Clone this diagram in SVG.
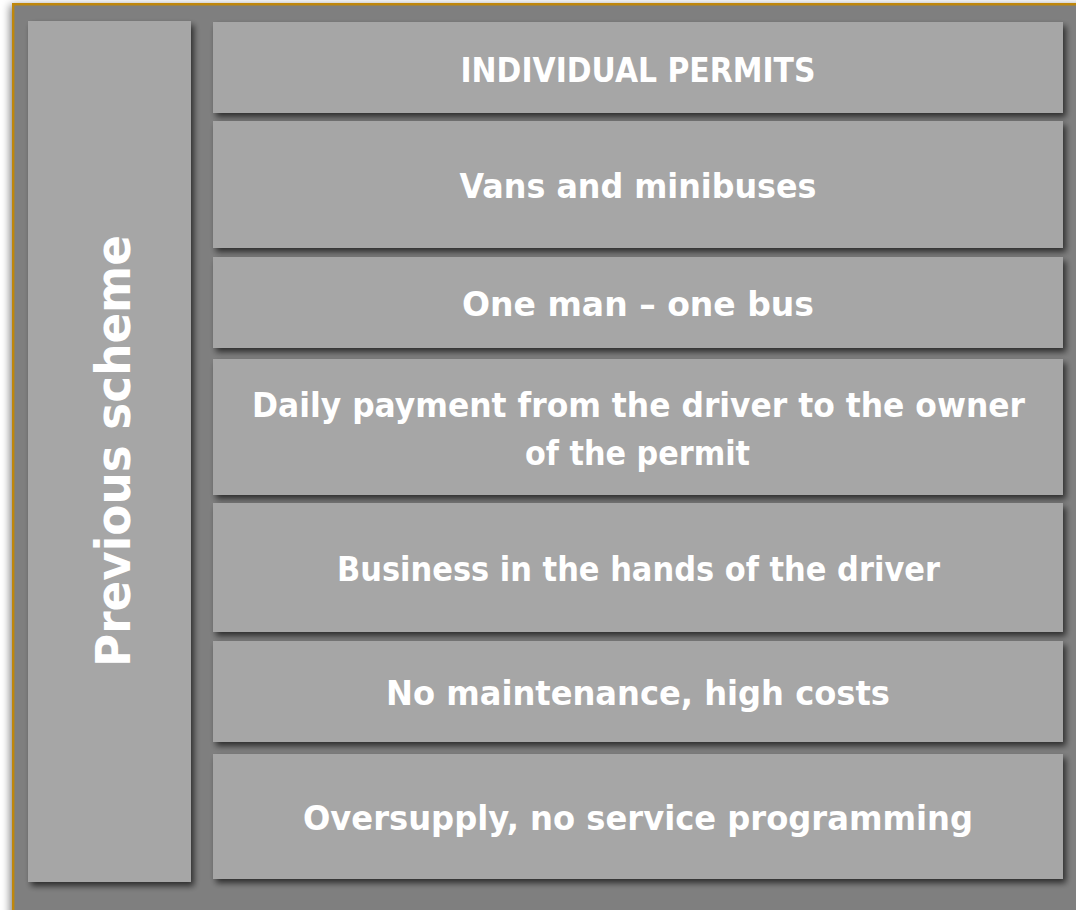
<svg xmlns="http://www.w3.org/2000/svg" width="1076" height="910" viewBox="0 0 1076 910">
  <defs>
    <filter id="sh" x="-10%" y="-20%" width="130%" height="150%">
      <feGaussianBlur in="SourceAlpha" stdDeviation="3"/>
      <feOffset dx="3" dy="4" result="b"/>
      <feComponentTransfer><feFuncA type="linear" slope="0.65"/></feComponentTransfer>
      <feMerge><feMergeNode/><feMergeNode in="SourceGraphic"/></feMerge>
    </filter>
    <filter id="fsh" x="-5%" y="-5%" width="110%" height="110%">
      <feGaussianBlur in="SourceAlpha" stdDeviation="4"/>
      <feOffset dx="-2" dy="2" result="b"/>
      <feComponentTransfer><feFuncA type="linear" slope="0.5"/></feComponentTransfer>
      <feMerge><feMergeNode/><feMergeNode in="SourceGraphic"/></feMerge>
    </filter>
  </defs>
  <style>
    .box { fill: #a6a6a6; filter: url(#sh); }
    .t { font-family: "DejaVu Sans", "Liberation Sans", sans-serif; font-weight: bold; font-size: 33px; fill: #ffffff; text-anchor: middle; }
    .tv { font-family: "DejaVu Sans", "Liberation Sans", sans-serif; font-weight: bold; font-size: 48px; fill: #ffffff; text-anchor: middle; }
  </style>
  <rect x="0" y="0" width="1076" height="910" fill="#ffffff"/>
  <g id="frame">
    <rect x="12" y="3" width="1080" height="920" fill="#7f7f7f" filter="url(#fsh)"/>
    <path d="M13.2 923 V4.2 H1080" fill="none" stroke="#bf870c" stroke-width="2.4"/>
  </g>
  <g id="previous-scheme">
    <rect class="box" x="28" y="21" width="163" height="861"/>
    <text class="tv" transform="translate(130 451) rotate(-90)" textLength="432" lengthAdjust="spacingAndGlyphs">Previous scheme</text>
  </g>
  <g id="individual-permits">
    <rect class="box" x="213" y="22" width="850" height="91"/>
    <text class="t" x="638" y="82" textLength="355" lengthAdjust="spacingAndGlyphs">INDIVIDUAL PERMITS</text>
  </g>
  <g id="vans">
    <rect class="box" x="213" y="121" width="850" height="127"/>
    <text class="t" x="638" y="198" textLength="357" lengthAdjust="spacingAndGlyphs">Vans and minibuses</text>
  </g>
  <g id="one-man">
    <rect class="box" x="213" y="257" width="850" height="91"/>
    <text class="t" x="638" y="316" textLength="352" lengthAdjust="spacingAndGlyphs">One man – one bus</text>
  </g>
  <g id="daily-payment">
    <rect class="box" x="213" y="359" width="850" height="136"/>
    <text class="t" x="638.5" y="417" textLength="773" lengthAdjust="spacingAndGlyphs">Daily payment from the driver to the owner</text>
    <text class="t" x="637.5" y="465" textLength="225" lengthAdjust="spacingAndGlyphs">of the permit</text>
  </g>
  <g id="business">
    <rect class="box" x="213" y="503" width="850" height="129"/>
    <text class="t" x="638.5" y="581" textLength="603" lengthAdjust="spacingAndGlyphs">Business in the hands of the driver</text>
  </g>
  <g id="maintenance">
    <rect class="box" x="213" y="641" width="850" height="101"/>
    <text class="t" x="638" y="705" textLength="504" lengthAdjust="spacingAndGlyphs">No maintenance, high costs</text>
  </g>
  <g id="oversupply">
    <rect class="box" x="213" y="754" width="850" height="125"/>
    <text class="t" x="638" y="830" textLength="670" lengthAdjust="spacingAndGlyphs">Oversupply, no service programming</text>
  </g>
  <g id="connectors"/>
</svg>
